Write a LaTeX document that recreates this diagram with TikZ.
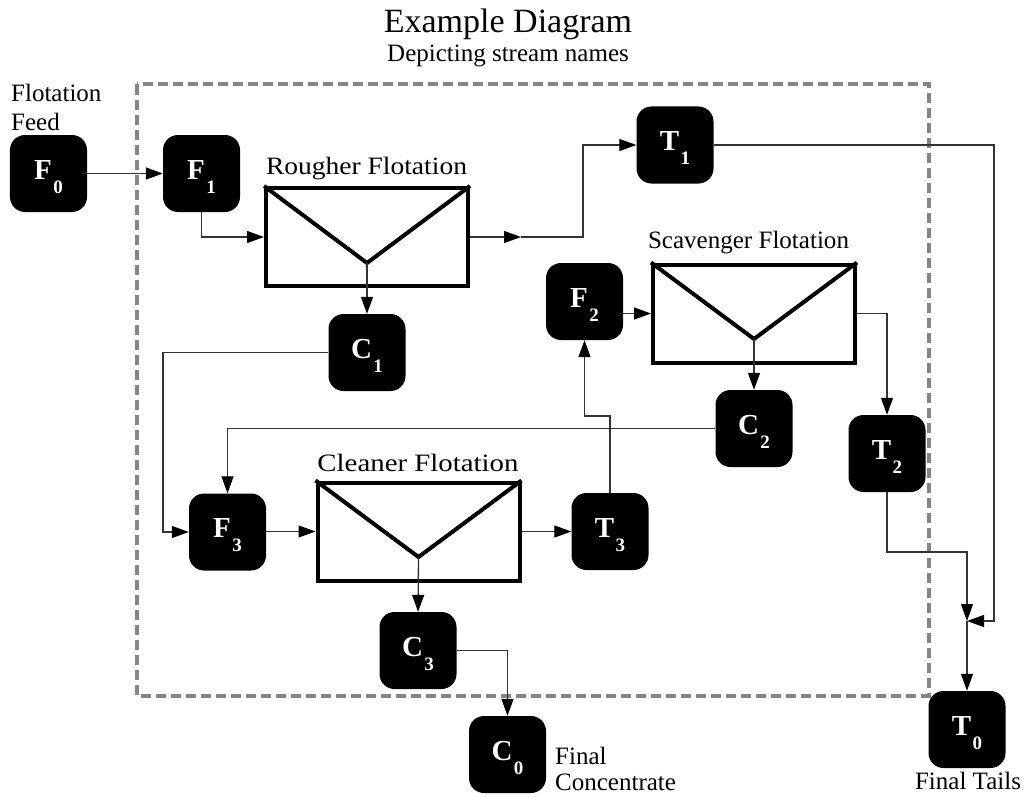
\documentclass[tikz,border=0pt]{standalone}
\usepackage{fontspec}
\usepackage{graphicx}
\setmainfont{Liberation Serif}
\usetikzlibrary{arrows.meta,calc}
\newcommand{\sname}[2]{\textbf{#1}\kern1.5bp\raisebox{-14bp}{\fontsize{19bp}{19bp}\selectfont\bfseries #2}}
\newcommand{\fitlabel}[1]{\resizebox{201bp}{\height}{#1}}
\begin{document}
\begin{tikzpicture}[x=1bp,y=-1bp,
  stream/.style={rectangle, rounded corners=15bp, fill=black, minimum width=77bp, minimum height=77bp,
    inner sep=0pt, text=white, text height=25bp, text depth=14bp, font=\fontsize{29bp}{29bp}\selectfont},
  cellbox/.style={rectangle, draw=black, line width=4bp, minimum width=202bp, minimum height=98bp, inner sep=0pt},
  vline/.style={draw=black, line width=4bp, line join=miter},
  conn/.style={draw=black!80, line width=1.3bp},
  arr/.style={conn, -{Triangle[length=17bp,width=12bp,color=black,fill=black]}},
  dashbox/.style={draw=black!48, line width=4bp, dash pattern=on 10bp off 5bp},
  lbl/.style={inner sep=0pt, font=\fontsize{25bp}{25bp}\selectfont, anchor=base},
  txt/.style={inner sep=0pt, font=\fontsize{25bp}{25bp}\selectfont, anchor=base west}
]
\useasboundingbox (0,0) rectangle (1025,798);

% dashed system boundary
\draw[dashbox] (137,84.5) rectangle (929,695.5);

% titles
\node[inner sep=0pt, anchor=base, font=\fontsize{34bp}{34bp}\selectfont] (title) at (508,33) {Example Diagram};
\node[inner sep=0pt, anchor=base, font=\fontsize{25bp}{25bp}\selectfont] (subtitle) at (508,62) {Depicting stream names};

% flotation cells
\node[cellbox] (rc) at (367,237) {};
\node[cellbox] (sc) at (754,313.5) {};
\node[cellbox] (cl) at (418.5,531.5) {};
\coordinate (rv) at ($(rc.center)+(0,26)$);
\coordinate (sv) at ($(sc.center)+(0,25.5)$);
\coordinate (cv) at ($(cl.center)+(0,25.5)$);
\draw[vline] (rc.north west) -- (rv) -- (rc.north east);
\draw[vline] (sc.north west) -- (sv) -- (sc.north east);
\draw[vline] (cl.north west) -- (cv) -- (cl.north east);

\node[lbl] (rlbl) at (366.5,174) {\fitlabel{Rougher Flotation}};
\node[lbl] (slbl) at (748.5,248) {\fitlabel{Scavenger Flotation}};
\node[lbl] (clbl) at (418,471) {\fitlabel{Cleaner Flotation}};

% streams
\node[stream] (F0) at (48.5,173.5) {\sname{F}{0}};
\node[stream] (F1) at (201.5,173.5) {\sname{F}{1}};
\node[stream] (T1) at (675,145) {\sname{T}{1}};
\node[stream] (C1) at (367,352.5) {\sname{C}{1}};
\node[stream] (F2) at (584.5,301.5) {\sname{F}{2}};
\node[stream] (C2) at (754,428.5) {\sname{C}{2}};
\node[stream] (T2) at (887,453.5) {\sname{T}{2}};
\node[stream] (F3) at (227.5,532) {\sname{F}{3}};
\node[stream] (T3) at (610,531.5) {\sname{T}{3}};
\node[stream] (C3) at (418,650.5) {\sname{C}{3}};
\node[stream] (C0) at (507.5,754.5) {\sname{C}{0}};
\node[stream] (T0) at (967,729.5) {\sname{T}{0}};

% texts
\node[txt] (ff1) at (11,102) {Flotation};
\node[txt] (ff2) at (11,130) {Feed};
\node[txt] (fc1) at (555,764) {Final};
\node[txt] (fc2) at (555,790) {Concentrate};
\node[inner sep=0pt, anchor=base, font=\fontsize{25bp}{25bp}\selectfont] (ft) at (968,789) {Final Tails};

% helper coordinates
\coordinate (ra) at (521,237);
\coordinate (rb) at (583,237);
\coordinate (c1l) at (163,352.5);
\coordinate (t3u) at (610,416);
\coordinate (t2d) at (887,552);
\coordinate (t1r) at (994,145);
\coordinate (J) at (967,621);

% connectors
\draw[arr] (F0) -- (F1);
\draw[arr] (F1.south) |- (rc.west);
\draw[arr] (rc.east) -- (ra);
\draw[arr] (ra) -- (rb) |- (T1.west);
\draw[arr] (rv) -- (C1.north);
\draw[arr] (C1.west) -- (c1l) |- (F3.west);
\draw[arr] (F3.east |- cl.west) -- (cl.west);
\draw[arr] (cv) -- (C3.north);
\draw[arr] (C3.east) -| (C0.north);
\draw[arr] (cl.east) -- (T3.west);
\draw[arr] (T3.north) -- (t3u) -| (F2.south);
\draw[arr] (F2.east |- sc.west) -- (sc.west);
\draw[arr] (sv) -- (C2.north);
\draw[arr] (C2.west) -| (F3.north);
\draw[arr] (sc.east) -| (T2.north);
\draw[arr] (T2.south) -- (t2d) -| (J);
\draw[arr] (T1.east) -- (t1r) |- (J);
\draw[arr] (J) -- (T0.north);
\end{tikzpicture}
\end{document}
